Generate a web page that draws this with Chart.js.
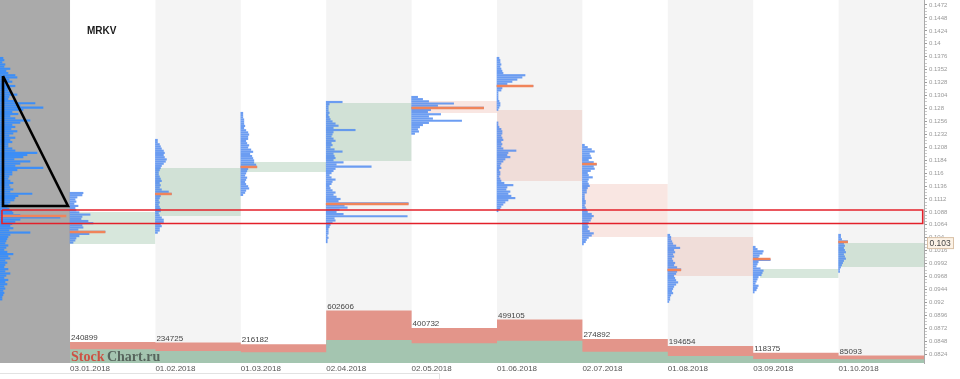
<!DOCTYPE html>
<html><head><meta charset="utf-8">
<script src="https://cdn.jsdelivr.net/npm/chart.js@4"></script>
<style>html,body{margin:0;padding:0;background:#fff;overflow:hidden}#wrap{width:960px;height:379px;position:relative}</style>
</head><body><div id="wrap"><canvas id="c" width="960" height="379"></canvas></div>
<script>
// ---------- data ----------
const monthLabels = ['03.01.2018','01.02.2018','01.03.2018','02.04.2018','02.05.2018','01.06.2018','02.07.2018','01.08.2018','03.09.2018','01.10.2018'];
const totalVolume = [240899, 234725, 216182, 602606, 400732, 499105, 274892, 194654, 118375, 85093];
const buyVolume   = [157000, 138000, 123000, 264000, 226000, 256000, 130000, 80000, 46000, 42000];
const priceTicks = [0.0824,0.0848,0.0872,0.0896,0.092,0.0944,0.0968,0.0992,0.1016,0.104,0.1064,0.1088,0.1112,0.1136,0.116,0.1184,0.1208,0.1232,0.1256,0.128,0.1304,0.1328,0.1352,0.1376,0.14,0.1424,0.1448,0.1472];
const lastPrice = 0.103;
const tickerName = 'MRKV';

// value areas per month
const valueAreaHigh  = [0.10878, 0.11694, 0.11806, 0.12901, 0.12938, 0.12771, 0.11397, 0.10413, 0.09819, 0.10302];
const valueAreaLow   = [0.10283, 0.10803, 0.11620, 0.11824, 0.12715, 0.11453, 0.10413, 0.09689, 0.09652, 0.09857];
const valueAreaFrom  = [0, 1, 2, 3, 4, 5, 6, 7, 8.08, 9];
const valueAreaDir   = ['up','up','up','up','down','down','down','down','up','up'];

// volume profiles (relative volume per price row, from top row down)
const profileTop = [0.13736, 0.11230, 0.12214, 0.12715, 0.12919, 0.13012, 0.13736, 0.12121, 0.10451, 0.10228, 0.10451];
const profAll = [3,4,2,5,4,10,6,8,15,17,9,12,7,15,10,8,12,17,9,8,14,35,20,43,23,12,18,10,15,30,20,12,15,11,17,13,9,15,10,12,8,8,12,15,37,27,23,14,30,20,15,43,17,12,12,9,8,10,13,9,10,13,10,32,18,15,14,10,8,7,9,12,13,20,60,20,15,12,10,13,9,30,10,8,7,6,5,8,6,4,7,13,8,10,5,7,5,4,8,5,10,6,4,8,5,7,4,5,3,4,3,2,2];
const profJan = [13,12,7,5,6,4,8,5,6,9,20,12,11,18,23,12,13,8,35,19,9,6,5,3];
const profFeb = [2,2,4,5,6,8,9,8,9,11,10,8,6,5,4,3,3,4,5,6,4,5,4,6,13,16,5,4,3,4,3,4,5,5,3,4,6,8,8,5,6,4,4,2];
const profMar = [2,2,2,3,3,3,4,3,5,7,8,7,7,5,6,8,7,10,12,9,11,12,13,13,15,16,7,6,5,4,6,5,4,5,7,8,5,4,2];
const profApr = [16,3,2,2,2,3,2,3,4,6,9,12,7,29,7,6,5,7,9,5,6,4,8,16,7,8,9,7,17,10,45,9,7,5,3,5,9,6,5,3,4,6,9,7,10,14,12,82,18,21,13,10,17,81,8,9,6,4,3,2,2,2,1,2,1,1];
const profMay = [6,11,17,42,26,72,19,16,29,17,21,50,17,11,8,6,7,3];
const profJun = [2,3,3,4,3,4,5,6,28,25,20,15,10,36,5,4,1,1,1,1,2,3,3,2,1,0,0,0,0,0,1,1,2,4,5,5,4,5,6,4,5,4,6,19,11,10,13,8,6,4,3,4,2,3,3,2,3,4,7,16,10,9,13,11,14,18,11,8,6,4,3,1];
const profJul = [2,5,9,12,7,8,9,6,11,14,11,12,8,5,6,10,6,5,6,7,5,4,4,2,2,2,3,3,2,3,4,5,9,11,9,8,6,5,6,5,7,11,9,6,4,3,1];
const profAug = [2,3,3,4,5,8,12,6,7,5,6,4,5,7,6,9,13,9,8,6,7,8,10,8,6,5,4,5,3,2,2,1];
const profSep = [2,4,10,9,6,5,17,5,4,3,7,10,9,8,5,4,3,2,5,4,3,1];
const profOct = [2,2,3,9,5,6,5,6,7,5,6,7,5,4,3,2,1,1];

// point of control (max volume price) per profile
const pocPrice  = [0.10803, 0.10506, 0.11212, 0.11713, 0.11026, 0.12808, 0.13216, 0.11768, 0.09801, 0.10005, 0.10321];
const pocVolume = [63, 35, 16, 16, 82, 72, 36, 14, 13, 17, 9];

// annotations (drawn by hand on the original)
const rectX = [-0.797, 9.985, 9.985, -0.797, -0.797];
const rectY = [0.10915, 0.10915, 0.10664, 0.10664, 0.10915];
const triX = [-0.785, -0.024, -0.785, -0.785];
const triY = [0.13402, 0.10989, 0.10989, 0.13402];

// ---------- chart configuration ----------
const X_MIN = -0.82, X_MAX = 10;
const PRICE_MIN = 0.080744, PRICE_MAX = 0.148128;
const PROFILE_STEP = 0.0004;
const PROFILE_UNIT = 1 / 85.4;
const VOLUME_AXIS_MAX = 4170000;

Chart.defaults.font.family = '"Liberation Sans", Arial, sans-serif';

const datasets = [];

valueAreaHigh.forEach((hi, i) => datasets.push({
  type: 'line', order: 20,
  data: [{x: valueAreaFrom[i], y: hi}, {x: i + 1, y: hi}],
  fill: {value: valueAreaLow[i]},
  backgroundColor: valueAreaDir[i] === 'up' ? 'rgba(160,198,172,0.42)' : 'rgba(232,150,135,0.24)',
  borderColor: 'transparent', borderWidth: 0, pointRadius: 0,
  xAxisID: 'x', yAxisID: 'y'
}));

const stepData = arr => arr.map((v, i) => ({x: i, y: v})).concat([{x: arr.length, y: arr[arr.length - 1]}]);
datasets.push({type: 'line', order: 15, data: stepData(totalVolume), stepped: true, fill: 'origin',
  backgroundColor: '#e3958a', borderColor: 'transparent', borderWidth: 0, pointRadius: 0, xAxisID: 'x', yAxisID: 'yv'});
datasets.push({type: 'line', order: 14, data: stepData(buyVolume), stepped: true, fill: 'origin',
  backgroundColor: '#a4c5b0', borderColor: 'transparent', borderWidth: 0, pointRadius: 0, xAxisID: 'x', yAxisID: 'yv'});

const profiles = [profAll, profJan, profFeb, profMar, profApr, profMay, profJun, profJul, profAug, profSep, profOct];
profiles.forEach((prof, i) => {
  const start = i === 0 ? X_MIN : i - 1;
  const data = [];
  prof.forEach((v, k) => { if (v > 0) data.push({y: profileTop[i] - k * PROFILE_STEP, x: [start, start + v * PROFILE_UNIT]}); });
  datasets.push({type: 'bar', indexAxis: 'y', order: 6, grouped: false, data, barThickness: 1.5,
    backgroundColor: i === 0 ? '#3d8ef6' : 'rgba(82,140,240,0.85)', borderWidth: 0, xAxisID: 'x', yAxisID: 'y'});
});

datasets.push({type: 'bar', indexAxis: 'y', order: 5, grouped: false, barThickness: 1.8,
  data: pocPrice.map((p, i) => { const s = i === 0 ? X_MIN + 0.035 : i - 1; return {y: p, x: [s, s + pocVolume[i] * PROFILE_UNIT]}; }),
  backgroundColor: '#f0845a', borderWidth: 0, xAxisID: 'x', yAxisID: 'y'});

datasets.push({type: 'line', order: 2, data: rectX.map((x, i) => ({x, y: rectY[i]})), fill: false,
  borderColor: '#e3202a', borderWidth: 1.6, pointRadius: 0, tension: 0, xAxisID: 'x', yAxisID: 'y'});
datasets.push({type: 'line', order: 1, data: triX.map((x, i) => ({x, y: triY[i]})), fill: false,
  borderColor: '#000', borderWidth: 2.6, borderJoinStyle: 'miter', pointRadius: 0, tension: 0, xAxisID: 'x', yAxisID: 'y'});

const decor = {
  id: 'decor',
  beforeDraw(chart) {
    const {ctx, chartArea: a, scales: {x}} = chart;
    ctx.save();
    ctx.fillStyle = '#fff'; ctx.fillRect(0, 0, chart.width, chart.height);
    ctx.fillStyle = '#aaaaaa';
    ctx.fillRect(a.left, a.top, x.getPixelForValue(0) - a.left, a.bottom - a.top);
    ctx.fillStyle = '#f4f4f4';
    monthLabels.forEach((_, i) => {
      if (i % 2 === 1) { const l = x.getPixelForValue(i), r = x.getPixelForValue(i + 1); ctx.fillRect(l, a.top, r - l, a.bottom - a.top); }
    });
    ctx.restore();
  },
  afterDatasetsDraw(chart) {
    const {ctx, scales: {x, yv}} = chart;
    ctx.save();
    ctx.font = '8px "Liberation Sans"'; ctx.fillStyle = '#444'; ctx.textAlign = 'left'; ctx.textBaseline = 'alphabetic';
    totalVolume.forEach((v, i) => ctx.fillText(String(v), x.getPixelForValue(i) + 1, yv.getPixelForValue(v) - 2));
    ctx.font = 'bold 10px "Liberation Sans"'; ctx.fillStyle = '#1a1a1a';
    ctx.fillText(tickerName, 87, 34);
    ctx.globalAlpha = 0.92;
    ctx.font = 'bold 14px "Liberation Serif"';
    const wx = x.getPixelForValue(0) + 1, wy = 361;
    ctx.fillStyle = '#d0473a'; ctx.fillText('Stock', wx, wy);
    const w = ctx.measureText('Stock').width;
    ctx.fillStyle = '#505c56'; ctx.fillText('Chart.ru', wx + w + 2.5, wy);
    ctx.restore();
  },
  afterDraw(chart) {
    const {ctx, scales: {y}} = chart;
    ctx.save();
    const py = y.getPixelForValue(lastPrice);
    ctx.fillStyle = '#fcf2e6'; ctx.strokeStyle = '#d8c0a6'; ctx.lineWidth = 1;
    ctx.fillRect(927.5, py - 5.5, 26, 11); ctx.strokeRect(927.5, py - 5.5, 26, 11);
    ctx.fillStyle = '#444'; ctx.font = '8.5px "Liberation Sans"'; ctx.textBaseline = 'middle'; ctx.textAlign = 'left';
    ctx.fillText(String(lastPrice), 929.5, py + 0.5);
    ctx.strokeStyle = '#e2e2e2';
    ctx.beginPath(); ctx.moveTo(0, 373.5); ctx.lineTo(439.5, 373.5); ctx.lineTo(439.5, 379); ctx.stroke();
    ctx.restore();
  }
};

new Chart(document.getElementById('c'), {
  type: 'line',
  data: {datasets},
  options: {
    responsive: false, animation: false, devicePixelRatio: 1,
    layout: {padding: 0},
    plugins: {legend: {display: false}, tooltip: {enabled: false}},
    scales: {
      x: {type: 'linear', min: X_MIN, max: X_MAX, offset: false,
        grid: {display: false, drawTicks: false}, border: {display: false},
        afterBuildTicks: s => { s.ticks = monthLabels.map((_, i) => ({value: i})); },
        afterFit: s => { s.height = 16; s.paddingLeft = 0; s.paddingRight = 0; s.paddingTop = 0; s.paddingBottom = 0; },
        ticks: {autoSkip: false, maxRotation: 0, minRotation: 0, align: 'start', padding: 1, color: '#555', font: {size: 8},
          callback: v => monthLabels[v] ?? ''}},
      y: {type: 'linear', position: 'right', min: PRICE_MIN, max: PRICE_MAX, offset: false,
        grid: {drawOnChartArea: false, drawTicks: true, tickLength: 3, offset: false,
          tickColor: c => (c.tick && c.tick.major) ? '#999' : '#c9c9c9'},
        border: {display: true, color: '#aaa'},
        afterBuildTicks: s => {
          const t = [];
          priceTicks.forEach((v, i) => {
            t.push({value: v, major: true});
            if (i < priceTicks.length - 1) {
              const d = (priceTicks[i + 1] - v) / 4;
              for (let k = 1; k < 4; k++) t.push({value: v + k * d, major: false});
            }
          });
          s.ticks = t;
        },
        afterFit: s => { s.width = 36; s.paddingTop = 0; s.paddingBottom = 0; s.paddingLeft = 0; s.paddingRight = 0; },
        ticks: {autoSkip: false, padding: 2, color: '#999', font: {size: 6},
          callback: (v, i, t) => (t[i] && t[i].major) ? String(+v.toFixed(4)) : ''}},
      yv: {type: 'linear', axis: 'y', display: false, min: 0, max: VOLUME_AXIS_MAX, offset: false}
    }
  },
  plugins: [decor]
});
</script>
</body></html>
